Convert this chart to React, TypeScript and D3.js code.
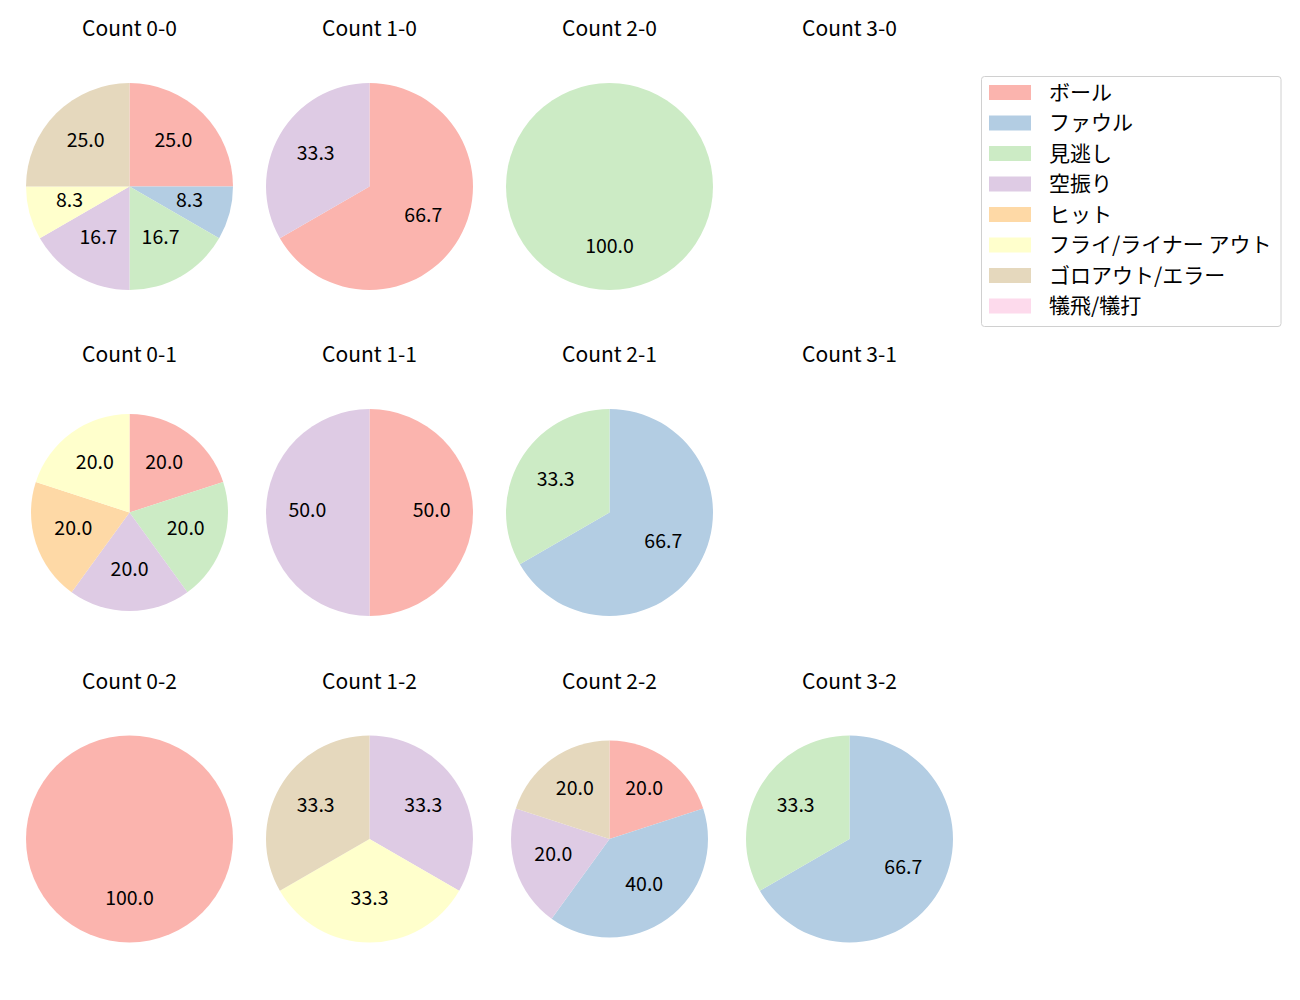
import React from "react";
import * as d3 from "d3";

const categories = ["ボール", "ファウル", "見逃し", "空振り", "ヒット", "フライ/ライナー アウト", "ゴロアウト/エラー", "犠飛/犠打"];
const colors = ["#fbb4ae", "#b3cde3", "#ccebc5", "#decbe4", "#fed9a6", "#ffffcc", "#e5d8bd", "#fddaec"];

const titles = [
  ["Count 0-0", "Count 1-0", "Count 2-0", "Count 3-0"],
  ["Count 0-1", "Count 1-1", "Count 2-1", "Count 3-1"],
  ["Count 0-2", "Count 1-2", "Count 2-2", "Count 3-2"],
];
const count00 = [3, 1, 2, 2, 0, 1, 3, 0];
const count10 = [2, 0, 0, 1, 0, 0, 0, 0];
const count20 = [0, 0, 1, 0, 0, 0, 0, 0];
const count30 = [0, 0, 0, 0, 0, 0, 0, 0];
const count01 = [1, 0, 1, 1, 1, 1, 0, 0];
const count11 = [1, 0, 0, 1, 0, 0, 0, 0];
const count21 = [0, 2, 1, 0, 0, 0, 0, 0];
const count31 = [0, 0, 0, 0, 0, 0, 0, 0];
const count02 = [1, 0, 0, 0, 0, 0, 0, 0];
const count12 = [0, 0, 0, 1, 0, 1, 1, 0];
const count22 = [1, 2, 0, 1, 0, 0, 1, 0];
const count32 = [0, 2, 1, 0, 0, 0, 0, 0];
const grid = [
  [count00, count10, count20, count30],
  [count01, count11, count21, count31],
  [count02, count12, count22, count32],
];

// layout
const colX = [129.5, 369.5, 609.5, 849.5];
const rowY = [186.5, 512.5, 839];
const radii = [
  [103.5, 103.5, 103.5, 103.5],
  [98.5, 103.5, 103.5, 103.5],
  [103.5, 103.5, 98.5, 103.5],
];
const FONT = "'Noto Sans CJK JP', 'Noto Sans', sans-serif";

type Item = { v: number; i: number };

function Pie({ values, cx, cy, r, title }: { values: number[]; cx: number; cy: number; r: number; title: string }) {
  const total = d3.sum(values);
  const items: Item[] = values.map((v, i) => ({ v, i })).filter((d) => d.v > 0);
  const pie = d3
    .pie<Item>()
    .value((d) => d.v)
    .sort(null)
    .startAngle(0)
    .endAngle(2 * Math.PI);
  const arcs = total > 0 ? pie(items) : [];
  const arc = d3.arc<d3.PieArcDatum<Item>>().innerRadius(0).outerRadius(r);
  return (
    <g>
      <text x={cx} y={cy - 159.3} dominantBaseline="central" textAnchor="middle" fontSize={21} fontFamily={FONT} fill="#000">
        {title}
      </text>
      <g transform={`translate(${cx},${cy})`}>
        {arcs.map((a) => (
          <path key={a.data.i} d={arc(a) || ""} fill={colors[a.data.i]} />
        ))}
        {arcs.map((a) => {
          const mid = (a.startAngle + a.endAngle) / 2;
          const x = Math.sin(mid) * r * 0.6;
          const y = -Math.cos(mid) * r * 0.6;
          return (
            <text key={"t" + a.data.i} x={x} y={y - 4.3} dominantBaseline="central" textAnchor="middle" fontSize={19.5} fontFamily={FONT} fill="#000">
              {((a.data.v / total) * 100).toFixed(1)}
            </text>
          );
        })}
      </g>
    </g>
  );
}

export default function App() {
  const legendX = 981.5;
  const legendY = 76.5;
  const rowH = 30.5;
  return (
    <svg width={1300} height={1000} style={{ position: "absolute", left: 0, top: 0, background: "#fff" }}>
      <rect width={1300} height={1000} fill="#fff" />
      {grid.map((row, ri) =>
        row.map((vals, ci) => (
          <Pie key={`${ri}-${ci}`} values={vals} cx={colX[ci]} cy={rowY[ri]} r={radii[ri][ci]} title={titles[ri][ci]} />
        ))
      )}
      <g>
        <rect x={legendX} y={legendY} width={299.5} height={250} rx={3} fill="#fff" stroke="#d0d0d0" strokeWidth={1} />
        {categories.map((c, i) => (
          <g key={c} transform={`translate(0,${legendY + 16 + i * rowH})`}>
            <rect x={989} y={-7.5} width={42} height={15} fill={colors[i]} />
            <text x={1049} y={-2} dominantBaseline="central" fontSize={21} fontFamily={FONT} fill="#000">
              {c}
            </text>
          </g>
        ))}
      </g>
    </svg>
  );
}
